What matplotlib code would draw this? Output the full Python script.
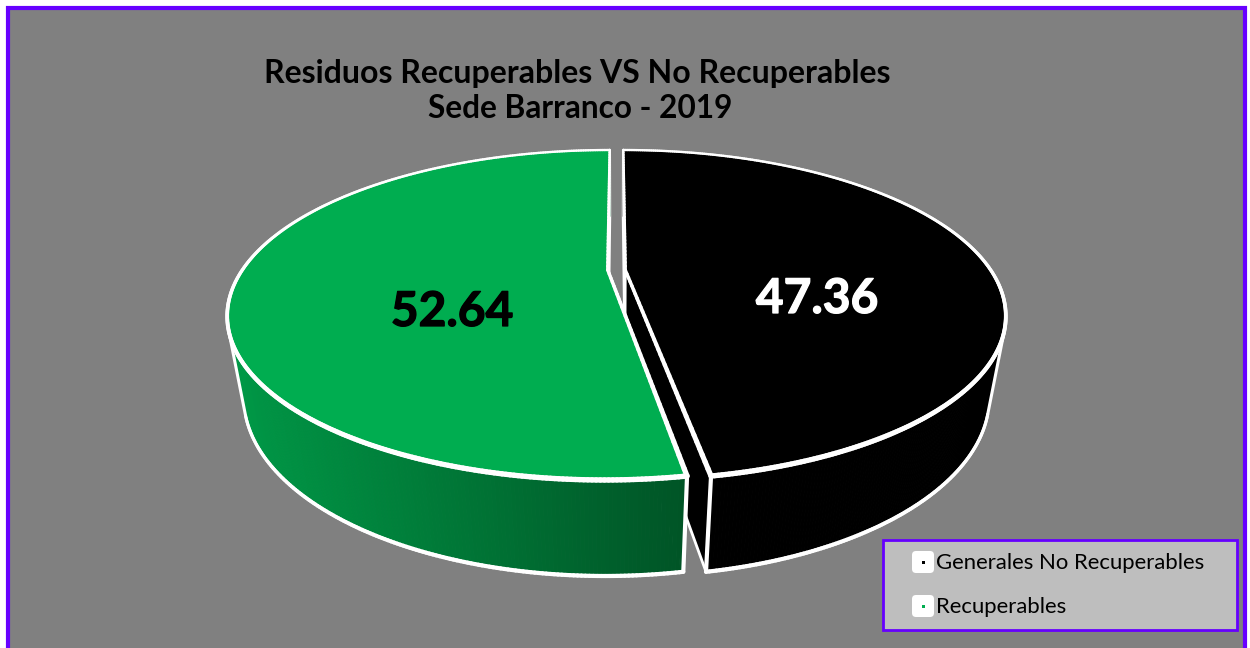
import numpy as np
import matplotlib
matplotlib.use("Agg")
import matplotlib.pyplot as plt
import matplotlib.patheffects as pe
from matplotlib.patches import Polygon, Rectangle, FancyBboxPatch
from matplotlib.collections import PolyCollection, LineCollection
from matplotlib.colors import to_rgb

categories = ["Generales No Recuperables", "Recuperables"]
values = [47.36, 52.64]
colors = ["#000000", "#00AD50"]
title_lines = ["Residuos Recuperables VS No Recuperables", "Sede Barranco - 2019"]

W, H = 1250, 648
fig = plt.figure(figsize=(W/100, H/100), dpi=100, facecolor="white")
ax = fig.add_axes([0, 0, 1, 1])
ax.set_xlim(0, W); ax.set_ylim(H, 0); ax.axis("off")

# chart background + frame
ax.add_patch(Rectangle((8, 8), 1237, 660, fc="#808080", ec="#6600FF", lw=3.0, zorder=0))

# perspective model of the 3-D pie
CX, CY = 616.5, 270.0
F, G, D = 1340.0, 560.0, 3.667
KZ, HZ = 0.15, 302.0
EXPL = 0.024

def proj(X, Y, z=0.0):
    den = D + Y + KZ*z
    return CX + F*X/den, CY + (-G*Y + HZ*z)/den

def rim(a, ox, z=0.0):
    return np.column_stack(proj(np.sin(a)+ox, np.cos(a), z))

total = sum(values)
white = "#FFFFFF"
LW = 2.4

def depth_line(pts, dens, zorder, scale=1.0):
    """White outline whose width follows the perspective depth."""
    pts = np.asarray(pts); dens = np.asarray(dens)
    segs = [[pts[i], pts[i+1]] for i in range(len(pts)-1)]
    w = scale*LW*(D/(0.5*(dens[:-1]+dens[1:])))**1.5
    ax.add_collection(LineCollection(segs, colors=white, linewidths=w, capstyle="round", zorder=zorder))

def draw_slice(start, end, color, ox, base_z, gradient=False):
    a = np.linspace(start, end, 400)
    top, bot = rim(a, ox, 0), rim(a, ox, 1)
    apex_t = np.array(proj(ox, 0, 0)); apex_b = np.array(proj(ox, 0, 1))
    # cut faces of the slice
    for ang in (start, end):
        tt, bb = rim(np.array([ang]), ox, 0)[0], rim(np.array([ang]), ox, 1)[0]
        ax.add_patch(Polygon([apex_t, tt, bb, apex_b], closed=True, fc=color, ec=white,
                             lw=2.0, joinstyle="round", zorder=base_z))
    # outer wall
    quads = [[top[i], top[i+1], bot[i+1], bot[i]] for i in range(len(a)-1)]
    base = np.array(to_rgb(color))
    if gradient:
        xs = np.array([q[0][0] for q in quads])
        t = np.clip((xs-230)/(690-230), 0, 1)
        c0, c1 = np.array([0, 152, 70])/255, np.array([0, 84, 38])/255
        fcs = [tuple(c0*(1-v)+c1*v) for v in t]
    else:
        fcs = [tuple(base)]*len(quads)
    ax.add_collection(PolyCollection(quads, facecolors=fcs, edgecolors=fcs, linewidths=0.6, zorder=base_z+1))
    # silhouette edge where the wall turns away from the viewer
    d = bot - top
    tg = np.gradient(top, axis=0)
    cr = d[:, 0]*tg[:, 1] - d[:, 1]*tg[:, 0]
    limit = 1.0
    for i in np.where(np.sign(cr[:-1]) != np.sign(cr[1:]))[0]:
        if np.cos(a[i]) < 0.2:
            limit = min(limit, np.cos(a[i]))
            ax.plot([top[i, 0], bot[i, 0]], [top[i, 1], bot[i, 1]], color=white, lw=2.2,
                    solid_capstyle="round", zorder=base_z+2)
    # lower rim, only where it is in front of the silhouette
    vis = np.cos(a) <= limit
    depth_line(bot[vis], D+np.cos(a[vis])+KZ, base_z+2, 0.85)
    # front vertical edge
    for ang in (start, end):
        if np.cos(ang) < 0:
            tt, bb = rim(np.array([ang]), ox, 0)[0], rim(np.array([ang]), ox, 1)[0]
            ax.plot([tt[0], bb[0]], [tt[1], bb[1]], color=white, lw=3.0, solid_capstyle="round", zorder=base_z+2)
    # top face with outline
    ax.add_patch(Polygon(np.vstack([apex_t, top]), closed=True, fc=to_rgb(color), ec="none", zorder=base_z+3))
    depth_line(top, D+np.cos(a), base_z+4)
    for ang in (start, end):
        s = np.linspace(0, 1, 40)
        pts = np.column_stack(proj(np.sin(ang)*s+ox, np.cos(ang)*s))
        depth_line(pts, D+np.cos(ang)*s, base_z+4)

a_split = 2*np.pi*values[0]/total
draw_slice(0, a_split, colors[0], EXPL, 2)
draw_slice(a_split, 2*np.pi, colors[1], -EXPL, 10, gradient=True)

# data labels
for x, y, v, c in [(817, 299, values[0], "white"), (452, 312, values[1], "black")]:
    ax.text(x, y, f"{v:.2f}", color=c, fontsize=34.5, fontweight="bold", family="Lato",
            ha="center", va="center", zorder=20,
            path_effects=[pe.withStroke(linewidth=0.9, foreground=c)])

# title
ax.text(577, 73, title_lines[0], fontsize=23, fontweight="bold", family="Lato", ha="center", va="center", color="black", zorder=20)
ax.text(580, 109, title_lines[1], fontsize=22.8, fontweight="bold", family="Lato", ha="center", va="center", color="black", zorder=20)

# legend
ax.add_patch(Rectangle((883, 540), 354, 90, fc="#BEBEBE", ec="#6600FF", lw=2.0, zorder=30))
for y, cat, col in zip((562, 606), categories, colors):
    ax.add_patch(FancyBboxPatch((915, y-8), 16, 16, boxstyle="round,pad=3,rounding_size=4",
                                fc="white", ec="none", zorder=31))
    ax.add_patch(Rectangle((921.5, y-1.5), 3, 3, fc=col, ec="none", zorder=32))
    ax.text(936, y+1, cat, fontsize=15.9, family="Lato", va="center", ha="left", color="black", zorder=32)

fig.savefig("out.png", dpi=100, facecolor="white")
